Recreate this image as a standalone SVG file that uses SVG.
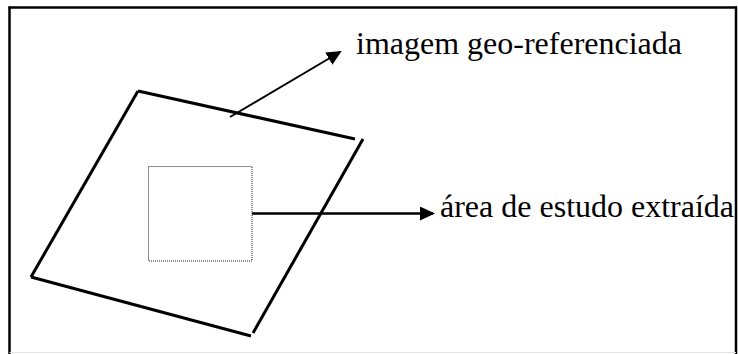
<svg xmlns="http://www.w3.org/2000/svg" width="738" height="354" viewBox="0 0 738 354">
  <style>
    .frame { stroke: #000; stroke-width: 2.5; fill: none; }
    .edge { stroke: #000; stroke-width: 3; fill: none; stroke-linecap: butt; }
    .crop { stroke: #222; stroke-width: 1; stroke-dasharray: 1 1; fill: none; }
    .conn { stroke: #000; fill: none; }
    .label { font-family: "Liberation Serif", "Times New Roman", serif; font-size: 32px; fill: #000; }
  </style>
  <defs>
    <marker id="head" markerUnits="userSpaceOnUse" markerWidth="16" markerHeight="16" refX="13" refY="7" orient="auto">
      <path d="M0,0 L15,7 L0,14 Z" fill="#000"/>
    </marker>
  </defs>
  <rect x="0" y="0" width="738" height="354" fill="#fff"/>

  <!-- outer frame -->
  <g id="frame">
    <line class="frame" x1="8.5" y1="7.5" x2="737" y2="7.5"/>
    <line class="frame" x1="9.5" y1="6.5" x2="9.5" y2="354"/>
    <line class="frame" x1="736" y1="6.5" x2="736" y2="354"/>
    <line x1="9.5" y1="352.5" x2="736" y2="352.5" stroke="#e4e4e4" stroke-width="1"/>
  </g>

  <!-- rotated image outline -->
  <g id="image-outline">
    <line class="edge" x1="138" y1="91" x2="355" y2="139"/>
    <line class="edge" x1="363" y1="139" x2="253" y2="333"/>
    <line class="edge" x1="251" y1="336" x2="31" y2="277"/>
    <line class="edge" x1="31" y1="277" x2="138" y2="91"/>
  </g>

  <!-- extracted study area -->
  <g id="study-area">
    <rect class="crop" x="148.5" y="166.5" width="103.5" height="94.5"/>
  </g>

  <!-- connectors -->
  <g id="connectors">
    <line class="conn" stroke-width="2" x1="230" y1="117" x2="340" y2="52" marker-end="url(#head)"/>
    <line class="conn" stroke-width="2.5" x1="252" y1="213.5" x2="433" y2="213.5" marker-end="url(#head)"/>
  </g>

  <g id="label-image">
    <text class="label" x="356" y="54">imagem geo-referenciada</text>
  </g>
  <g id="label-area">
    <text class="label" x="440" y="217">área de estudo extraída</text>
  </g>
</svg>
